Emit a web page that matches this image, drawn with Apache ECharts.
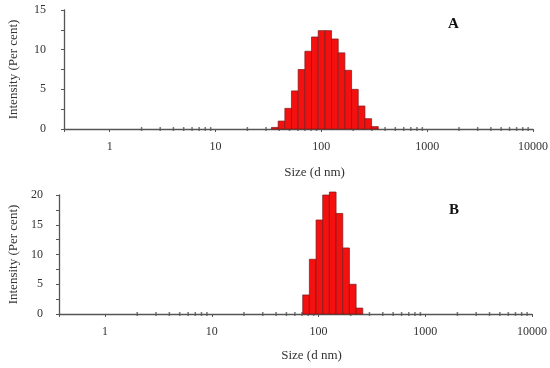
<!DOCTYPE html>
<html>
<head>
<meta charset="utf-8">
<script src="https://cdn.jsdelivr.net/npm/echarts@6/dist/echarts.min.js"></script>
<style>html,body{margin:0;padding:0;background:#fff}#c{width:550px;height:368px}</style>
</head>
<body>
<div id="c"></div>
<script>
// Panel A: bin centre sizes (nm) and intensities (%)
const sizesA = [36.3, 42.0, 48.6, 56.1, 64.9, 75.1, 86.8, 100.4, 116.1, 134.3, 155.2, 179.6, 207.6, 240.1, 277.6, 321.0];
const valuesA = [0.2, 1.0, 2.6, 4.8, 7.5, 9.8, 11.6, 12.4, 12.4, 11.35, 9.6, 7.4, 5.0, 2.9, 1.3, 0.3];
// Panel B
const sizesB = [76.4, 88.2, 101.9, 117.6, 135.8, 156.9, 181.1, 209.2, 241.5];
const valuesB = [3.2, 9.2, 15.8, 20.0, 20.5, 16.9, 11.1, 5.0, 1.0];
const xTickLabels = ['1', '10', '100', '1000', '10000'];
const minorPositions = [2,3,4,5,6,7,8,9,20,30,40,50,60,70,80,90,200,300,400,500,600,700,800,900,2000,3000,4000,5000,6000,7000,8000,9000];
const panelLabels = ['A', 'B'];

const FONT = '"Liberation Serif", "DejaVu Serif", serif';
const HALF = Math.pow(10, 0.0315);

const chart = echarts.init(document.getElementById('c'), null, {renderer: 'canvas'});

function xAxisCfg(gi) {
  return {
    type: 'log', gridIndex: gi, min: 0.37, max: 10000, logBase: 10, splitNumber: 5,
    axisLine: {lineStyle: {color: '#555', width: 1.3}},
    axisTick: {show: true, length: 3, lineStyle: {color: '#555'}},
    splitLine: {show: false},
    axisLabel: {
      margin: 12, color: '#333', fontFamily: FONT, fontSize: 12,
      formatter: v => { const s = String(Math.round(v)); return xTickLabels.includes(s) && Math.abs(v - Math.round(v)) < 1e-6 ? s : ''; }
    },
    name: 'Size (d nm)', nameLocation: 'middle', nameGap: gi === 0 ? 37 : 35,
    nameTextStyle: {color: '#333', fontFamily: FONT, fontSize: 13, padding: [0, 0, 0, 32]}
  };
}
function yAxisCfg(gi, max) {
  return {
    type: 'value', gridIndex: gi, min: 0, max: max, interval: 5,
    axisLine: {show: true, lineStyle: {color: '#555', width: 1.3}},
    axisTick: {show: true, length: 3, lineStyle: {color: '#555'}},
    minorTick: {show: true, splitNumber: 2, length: 3, lineStyle: {color: '#555'}},
    splitLine: {show: false},
    axisLabel: {margin: gi === 0 ? 18 : 16, color: '#333', fontFamily: FONT, fontSize: 12},
    name: 'Intensity (Per cent)', nameLocation: 'middle', nameGap: gi === 0 ? 44 : 37,
    nameTextStyle: {color: '#333', fontFamily: FONT, fontSize: 13}
  };
}
function barSeries(gi, sizes, values) {
  return {
    type: 'custom', xAxisIndex: gi, yAxisIndex: gi, clip: false,
    data: sizes.map((s, i) => [s, values[i]]),
    encode: {x: 0, y: 1},
    renderItem: (params, api) => {
      const c = api.value(0), v = api.value(1);
      const p0 = api.coord([c / HALF, 0]);
      const p1 = api.coord([c * HALF, v]);
      return {
        type: 'rect',
        shape: {x: p0[0], y: p1[1], width: p1[0] - p0[0], height: p0[1] - p1[1]},
        style: {fill: '#f51010', stroke: '#7a1a1a', lineWidth: 0.7}
      };
    }
  };
}
function tickSeries(gi) {
  return {
    type: 'scatter', xAxisIndex: gi, yAxisIndex: gi, silent: true, clip: false,
    symbol: 'rect', symbolSize: [1.5, 4],
    itemStyle: {color: '#555'},
    data: minorPositions.map(p => [p, 0]), z: 1
  };
}

chart.setOption({
  animation: false,
  backgroundColor: '#fff',
  grid: [
    {left: 64, right: 17, top: 10, height: 119, containLabel: false, outerBoundsMode: 'none'},
    {left: 59, right: 18, top: 195, height: 119, containLabel: false, outerBoundsMode: 'none'}
  ],
  xAxis: [xAxisCfg(0), xAxisCfg(1)],
  yAxis: [yAxisCfg(0, 15), yAxisCfg(1, 20)],
  series: [barSeries(0, sizesA, valuesA), barSeries(1, sizesB, valuesB), tickSeries(0), tickSeries(1)],
  graphic: [
    {type: 'text', left: 448, top: 17, style: {text: panelLabels[0], font: 'bold 15px ' + FONT, fill: '#111'}},
    {type: 'text', left: 449, top: 203, style: {text: panelLabels[1], font: 'bold 15px ' + FONT, fill: '#111'}}
  ]
});
</script>
</body>
</html>
